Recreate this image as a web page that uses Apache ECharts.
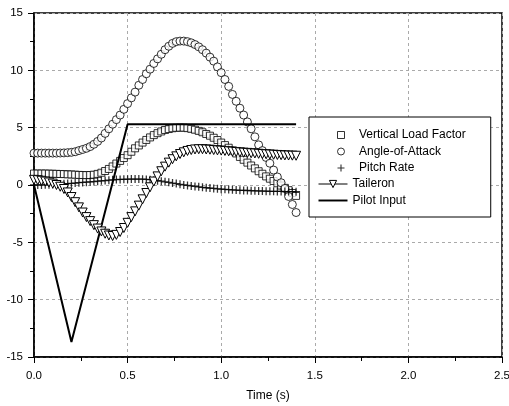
<!DOCTYPE html>
<html>
<head>
<meta charset="utf-8">
<script src="https://cdn.jsdelivr.net/npm/echarts@6/dist/echarts.min.js"></script>
<style>
  html, body { margin: 0; padding: 0; background: #fff; }
  #chart { width: 509px; height: 406px; }
</style>
</head>
<body>
<div id="chart"></div>
<script>
// time samples (s)
const time = [
  0.00, 0.02, 0.04, 0.06, 0.08, 0.10, 0.12, 0.14, 0.16, 0.18,
  0.20, 0.22, 0.24, 0.26, 0.28, 0.30, 0.32, 0.34, 0.36, 0.38,
  0.40, 0.42, 0.44, 0.46, 0.48, 0.50, 0.52, 0.54, 0.56, 0.58,
  0.60, 0.62, 0.64, 0.66, 0.68, 0.70, 0.72, 0.74, 0.76, 0.78,
  0.80, 0.82, 0.84, 0.86, 0.88, 0.90, 0.92, 0.94, 0.96, 0.98,
  1.00, 1.02, 1.04, 1.06, 1.08, 1.10, 1.12, 1.14, 1.16, 1.18,
  1.20, 1.22, 1.24, 1.26, 1.28, 1.30, 1.32, 1.34, 1.36, 1.38,
  1.40
];

const loadFactor = [
  1.00, 1.00, 1.00, 1.00, 0.99, 0.98, 0.97, 0.96, 0.95, 0.93,
  0.92, 0.90, 0.88, 0.87, 0.86, 0.87, 0.90, 0.97, 1.07, 1.22,
  1.40, 1.62, 1.87, 2.10, 2.35, 2.60, 2.90, 3.20, 3.45, 3.70,
  3.93, 4.15, 4.35, 4.52, 4.67, 4.80, 4.88, 4.95, 4.99, 5.00,
  5.00, 4.96, 4.90, 4.82, 4.72, 4.60, 4.45, 4.30, 4.12, 3.92,
  3.70, 3.48, 3.25, 3.00, 2.75, 2.45, 2.20, 1.95, 1.70, 1.45,
  1.20, 0.98, 0.75, 0.55, 0.35, 0.15, -0.05, -0.25, -0.45, -0.70,
  -0.95
];

const angleOfAttack = [
  2.78, 2.78, 2.78, 2.78, 2.78, 2.78, 2.78, 2.79, 2.80, 2.82,
  2.85, 2.90, 3.00, 3.10, 3.20, 3.35, 3.55, 3.80, 4.10, 4.50,
  4.90, 5.30, 5.70, 6.10, 6.60, 7.10, 7.60, 8.10, 8.70, 9.20,
  9.70, 10.10, 10.60, 11.00, 11.40, 11.80, 12.10, 12.35, 12.50, 12.55,
  12.55, 12.50, 12.40, 12.25, 12.05, 11.80, 11.50, 11.15, 10.80, 10.30,
  9.80, 9.20, 8.60, 7.90, 7.30, 6.70, 6.10, 5.50, 4.90, 4.20,
  3.50, 3.00, 2.40, 1.90, 1.30, 0.70, 0.20, -0.30, -1.00, -1.70,
  -2.40
];

const pitchRate = [
  0.00, 0.00, 0.01, 0.02, 0.03, 0.05, 0.06, 0.08, 0.10, 0.12,
  0.14, 0.17, 0.20, 0.22, 0.25, 0.28, 0.30, 0.33, 0.36, 0.39,
  0.42, 0.45, 0.47, 0.49, 0.50, 0.51, 0.52, 0.52, 0.52, 0.51,
  0.49, 0.46, 0.42, 0.38, 0.33, 0.28, 0.23, 0.17, 0.12, 0.06,
  0.01, -0.04, -0.08, -0.12, -0.16, -0.20, -0.24, -0.27, -0.30, -0.33,
  -0.36, -0.38, -0.40, -0.42, -0.44, -0.46, -0.47, -0.48, -0.50, -0.51,
  -0.52, -0.53, -0.54, -0.55, -0.55, -0.56, -0.56, -0.57, -0.57, -0.58,
  -0.58
];

const taileron = [
  0.45, 0.42, 0.37, 0.30, 0.22, 0.12, 0.00, -0.15, -0.35, -0.65,
  -1.05, -1.50, -1.95, -2.40, -2.80, -3.15, -3.50, -3.80, -4.05, -4.25,
  -4.40, -4.45, -4.35, -4.10, -3.75, -3.30, -2.80, -2.30, -1.80, -1.25,
  -0.70, -0.20, 0.30, 0.75, 1.20, 1.60, 1.95, 2.25, 2.50, 2.70,
  2.85, 2.97, 3.05, 3.10, 3.12, 3.12, 3.10, 3.08, 3.05, 3.02,
  3.00, 2.97, 2.94, 2.91, 2.88, 2.85, 2.82, 2.80, 2.77, 2.75,
  2.72, 2.70, 2.68, 2.66, 2.64, 2.62, 2.60, 2.58, 2.57, 2.56,
  2.55
];

const pilotTime = [0, 0.2, 0.5, 1.4];
const pilotInput = [0, -13.7, 5.3, 5.3];

const xTicks = [0, 0.5, 1.0, 1.5, 2.0, 2.5];
const yTicks = [-15, -10, -5, 0, 5, 10, 15];

const pair = (xs, ys) => xs.map((x, i) => [x, ys[i]]);

const plusPath = 'path://M0.42,0H0.58V1H0.42ZM0,0.42H1V0.58H0Z';
const squarePath = 'path://M0,0H1V1H0Z';
const linePath = 'path://M0,0H30V2H0Z';
const hollow = { color: '#fff', borderColor: '#000', borderWidth: 1 };

const chart = echarts.init(document.getElementById('chart'));
chart.setOption({
  animation: false,
  backgroundColor: '#fff',
  textStyle: { fontFamily: 'Liberation Sans, Arial, sans-serif' },
  grid: {
    left: 34, right: 7, top: 13, bottom: 49,
    outerBoundsMode: 'none',
    show: true, borderColor: '#000', borderWidth: 1.5, backgroundColor: 'transparent'
  },
  legend: [
    {
      // symbol-only entries; box drawn by this legend
      orient: 'vertical',
      left: 309, top: 117,
      padding: [12, 25, 43, 28],
      itemWidth: 26, itemHeight: 7, itemGap: 4.5,
      symbolKeepAspect: true,
      itemStyle: { borderWidth: 1, borderColor: '#000' },
      backgroundColor: '#fff',
      borderColor: '#000', borderWidth: 1,
      textStyle: { fontSize: 12, color: '#000', lineHeight: 12 },
      data: [
        { name: 'Vertical Load Factor', icon: squarePath },
        { name: 'Angle-of-Attack' },
        { name: 'Pitch Rate', itemStyle: { borderWidth: 0 } }
      ]
    },
    {
      // line entries, drawn over the box above
      orient: 'vertical',
      left: 318, top: 178,
      padding: 0,
      z: 10,
      itemWidth: 29, itemHeight: 9, itemGap: 4.5,
      symbolKeepAspect: true,
      itemStyle: { borderWidth: 1, borderColor: '#000' },
      lineStyle: { width: 1, color: '#000' },
      textStyle: { fontSize: 12, color: '#000', lineHeight: 12 },
      data: [
        { name: 'Taileron' },
        { name: 'Pilot Input', icon: linePath, itemStyle: { color: '#000', borderWidth: 0 } }
      ]
    }
  ],
  xAxis: {
    type: 'value',
    min: xTicks[0], max: xTicks[xTicks.length - 1], interval: 0.5,
    name: 'Time (s)', nameLocation: 'middle', nameGap: 33,
    nameTextStyle: { fontSize: 12, color: '#000' },
    axisLine: { onZero: false, lineStyle: { color: '#000', width: 1.5 } },
    axisTick: { inside: false, length: 6, lineStyle: { color: '#000', width: 1 } },
    minorTick: { show: true, splitNumber: 2, length: 4, lineStyle: { color: '#000', width: 1 } },
    axisLabel: { fontSize: 11.5, color: '#000', margin: 13, formatter: v => v.toFixed(1) },
    splitLine: { show: true, lineStyle: { color: '#aaa', type: [3, 3], width: 1 } }
  },
  yAxis: {
    type: 'value',
    min: yTicks[0], max: yTicks[yTicks.length - 1], interval: 5,
    axisLine: { onZero: false, lineStyle: { color: '#000', width: 1.5 } },
    axisTick: { inside: false, length: 6, lineStyle: { color: '#000', width: 1 } },
    minorTick: { show: true, splitNumber: 2, length: 4, lineStyle: { color: '#000', width: 1 } },
    axisLabel: { fontSize: 11.5, color: '#000', margin: 11 },
    splitLine: { show: true, lineStyle: { color: '#aaa', type: [3, 3], width: 1 } }
  },
  series: [
    {
      name: 'Vertical Load Factor', type: 'scatter',
      data: pair(time, loadFactor),
      symbol: 'rect', symbolSize: 7,
      itemStyle: hollow
    },
    {
      name: 'Angle-of-Attack', type: 'scatter',
      data: pair(time, angleOfAttack),
      symbol: 'circle', symbolSize: 8,
      itemStyle: hollow
    },
    {
      name: 'Pitch Rate', type: 'scatter',
      data: pair(time, pitchRate),
      symbol: plusPath, symbolSize: 8,
      itemStyle: { color: '#000' }
    },
    {
      name: 'Taileron', type: 'line',
      data: pair(time, taileron),
      symbol: 'triangle', symbolSize: 9, symbolRotate: 180, showAllSymbol: true,
      lineStyle: { color: '#000', width: 1 },
      itemStyle: hollow
    },
    {
      name: 'Pilot Input', type: 'line',
      data: pair(pilotTime, pilotInput),
      symbol: 'none',
      lineStyle: { color: '#000', width: 2 },
      itemStyle: { color: '#000' }
    }
  ]
});
</script>
</body>
</html>
